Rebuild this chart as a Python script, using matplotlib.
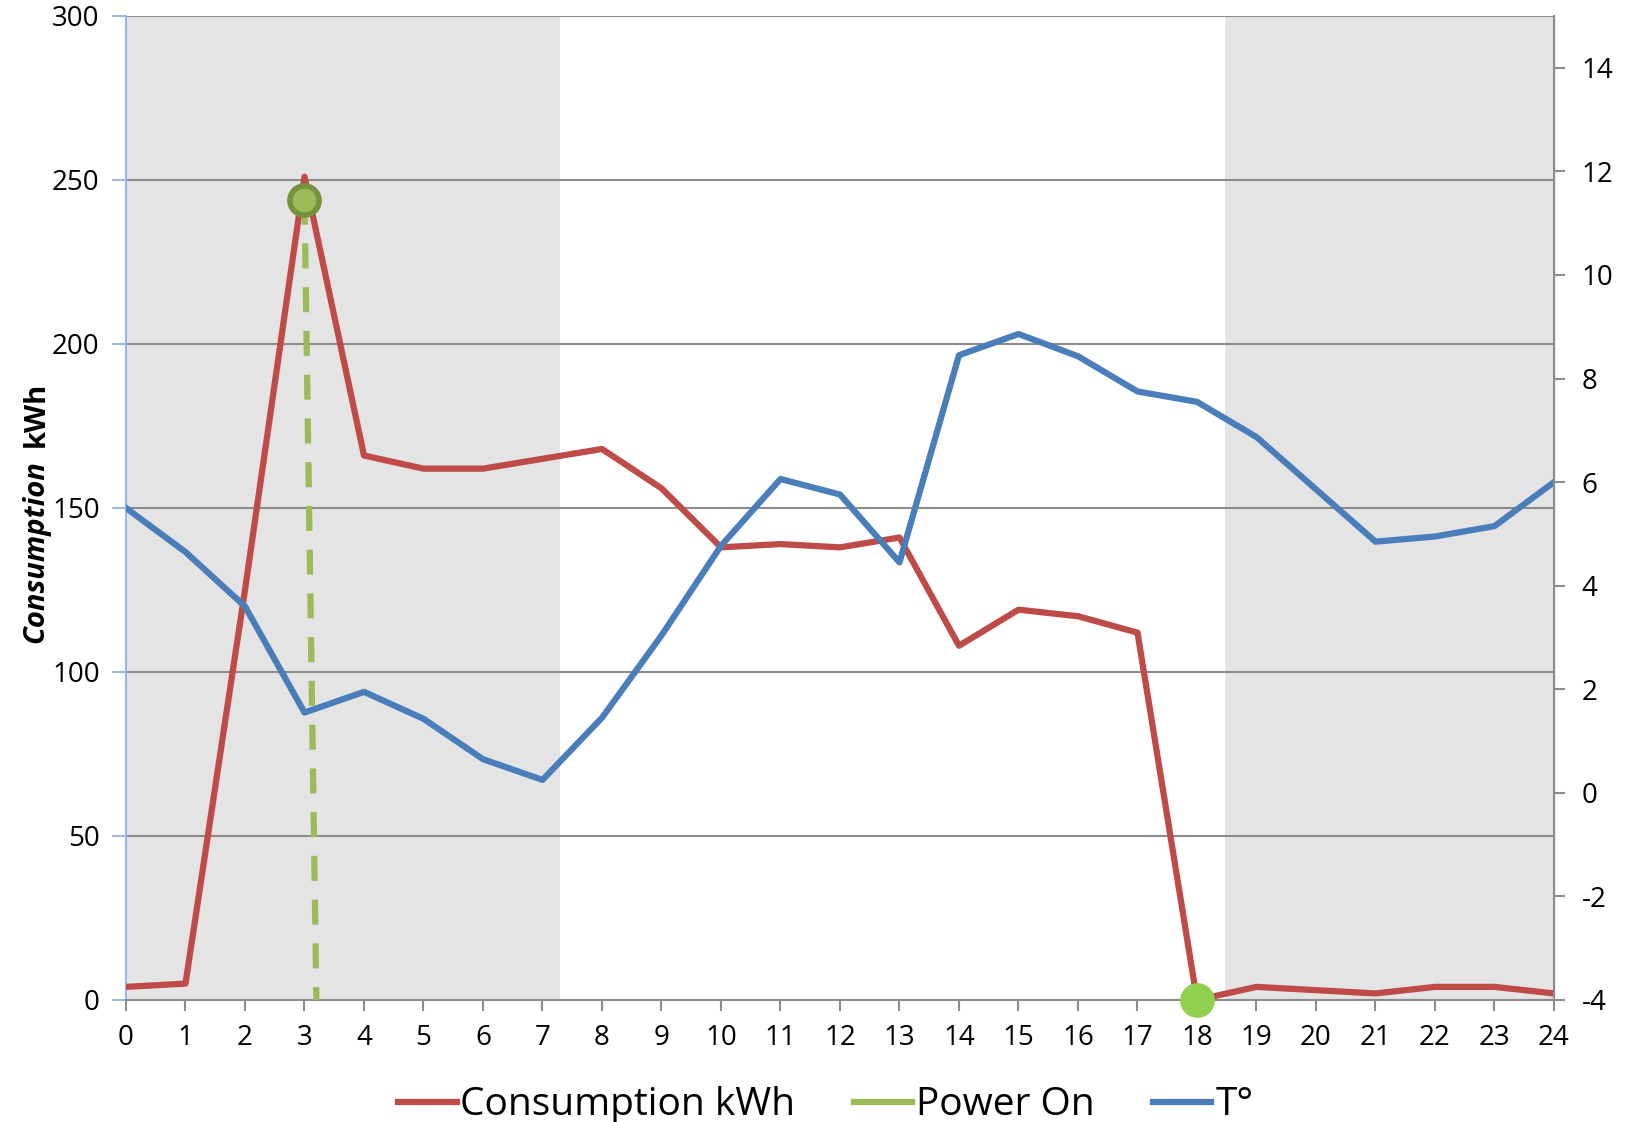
import matplotlib
matplotlib.use("Agg")
import matplotlib.pyplot as plt
from matplotlib.lines import Line2D

plt.rcParams['font.family'] = ['Open Sans', 'DejaVu Sans']
plt.rcParams['axes.unicode_minus'] = False

hours = list(range(25))
consumption = [4, 5, 125, 251, 166, 162, 162, 165, 168, 156, 138, 139, 138, 141,
               108, 119, 117, 112, 0, 4, 3, 2, 4, 4, 2]
temperature = [5.5, 4.65, 3.6, 1.55, 1.95, 1.43, 0.65, 0.25, 1.45, 3.04, 4.77, 6.06,
               5.76, 4.45, 8.45, 8.86, 8.43, 7.75, 7.55, 6.87, 5.86, 4.85, 4.95, 5.15, 6.0]
power_on_x = [3, 3.2]
power_on_y = [244, 0]
power_off_x = 18
power_off_y = 0
night = [(0, 7.3), (18.47, 24)]

red = '#BE4B48'
blue = '#4A7EBB'
green = '#9BBB59'
olive = '#76923C'
bright = '#92D050'

fig = plt.figure(figsize=(16.33, 11.22), dpi=100)
ax = fig.add_axes([126 / 1633, 1 - 1000 / 1122, (1554 - 126) / 1633, (1000 - 16) / 1122])
ax2 = ax.twinx()

for a, b in night:
    ax.axvspan(a, b, color='#E4E4E4', zorder=0, lw=0)

ax.set_xlim(0, 24)
ax.set_ylim(0, 300)
ax.set_yticks(range(0, 301, 50))
ax.set_xticks(hours)
ax.yaxis.grid(True, color='#8C8C8C', lw=1.5, zorder=1)
ax.set_axisbelow(True)

ax.plot(hours, consumption, color=red, lw=4.5, zorder=3, solid_joinstyle='round')
ax.plot(power_on_x, power_on_y, color=green, lw=4.5, ls=(0, (4, 3)), zorder=3,
        dash_capstyle='butt')
ax.plot(power_on_x[0], power_on_y[0], 'o', ms=21, mfc=green, mec=olive, mew=4, zorder=4)
ax.plot(power_off_x, power_off_y, 'o', ms=24, mfc=bright, mec=bright, zorder=4, clip_on=False)

ax2.plot(hours, temperature, color=blue, lw=4.5, solid_joinstyle='round')
ax2.set_ylim(-4, 15)
ax2.set_yticks(range(-4, 15, 2))

ax.spines['top'].set_visible(False)
ax2.spines['top'].set_visible(False)
ax.spines['left'].set_color('#9DB9E3')
ax.spines['left'].set_linewidth(1.5)
ax.spines['bottom'].set_color('#8C8C8C')
ax.spines['bottom'].set_linewidth(1.5)
ax2.spines['right'].set_color('#8C8C8C')
ax2.spines['right'].set_linewidth(1.5)
ax2.spines['left'].set_visible(False)
ax2.spines['bottom'].set_visible(False)

ax.tick_params(axis='y', colors='#9DB9E3', labelcolor='black', length=10, width=1.5,
               labelsize=20, pad=9)
ax.tick_params(axis='x', colors='#8C8C8C', labelcolor='black', length=8, width=1.5,
               labelsize=20, pad=9)
ax2.tick_params(axis='y', colors='#8C8C8C', labelcolor='black', length=8, width=1.5,
                labelsize=20, pad=12)

fig.text(36 / 1633, 1 - 552 / 1122, 'Consumption', rotation=90, ha='center', va='center',
         fontsize=21, fontweight='bold', fontstyle='italic')
fig.text(36 / 1633, 1 - 414 / 1122, 'kWh', rotation=90, ha='center', va='center',
         fontsize=21, fontweight='bold')

handles = [Line2D([], [], color=red, lw=4.5),
           Line2D([], [], color=green, lw=4.5),
           Line2D([], [], color=blue, lw=4.5)]
ax.legend(handles, ['Consumption kWh', 'Power On', 'T°'], loc='center',
          bbox_to_anchor=(0.49, -0.107), ncol=3, frameon=False, fontsize=28,
          handlelength=1.5, handletextpad=0.1, columnspacing=1.5)

fig.savefig('out.png', dpi=100)
